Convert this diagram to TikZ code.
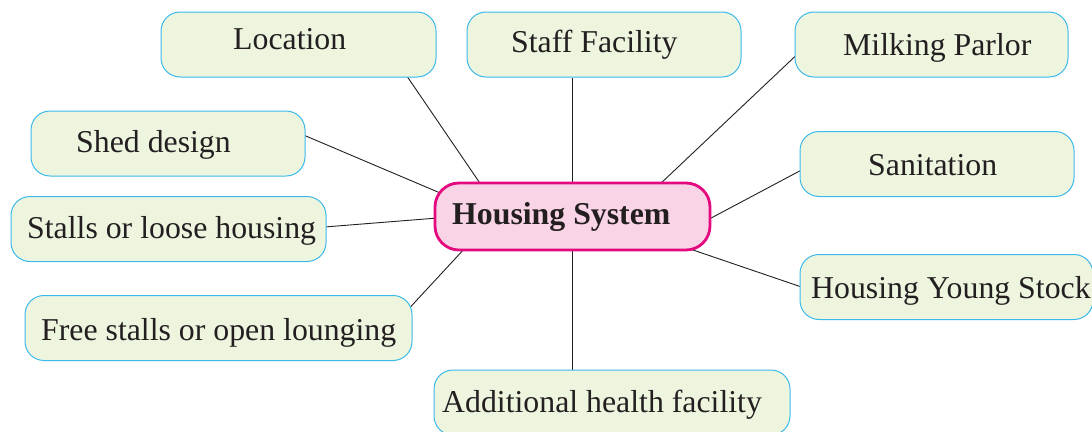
\documentclass[tikz,border=0pt]{standalone}
\usepackage{fontspec}
\setmainfont{Liberation Serif}
\usetikzlibrary{calc,backgrounds}
\definecolor{boxfill}{HTML}{EDF5DF}
\definecolor{boxline}{HTML}{3BB9EB}
\definecolor{hubfill}{HTML}{F9D4E6}
\definecolor{hubline}{HTML}{E4097F}
\definecolor{ink}{HTML}{231F20}
\begin{document}
\begin{tikzpicture}[x=1pt,y=-1pt,
	topic/.style={draw=boxline,fill=boxfill,line width=1pt,rounded corners=19pt,minimum height=65pt,inner sep=0pt},
	hub/.style={draw=hubline,fill=hubfill,line width=2.8pt,rounded corners=24pt,minimum width=275pt,minimum height=67pt,inner sep=0pt},
	word/.style={anchor=base west,inner sep=0pt,text=ink,font=\fontsize{31.8}{38}\selectfont},
	link/.style={draw=ink,line width=0.9pt}]
		\useasboundingbox (0,0) rectangle (1092,431);
		\node[topic,minimum width=275pt] (loc) at (298.5,44.5) {};
		\node[topic,minimum width=274pt] (staff) at (604,44.5) {};
		\node[topic,minimum width=273pt] (milk) at (931.5,44.5) {};
		\node[topic,minimum width=274pt] (shed) at (168,143.5) {};
		\node[topic,minimum width=274pt] (sanit) at (937,164) {};
		\node[topic,minimum width=315pt] (stalls) at (168.5,229) {};
		\node[topic,minimum width=293pt] (young) at (946.5,287) {};
		\node[topic,minimum width=387pt] (free) at (218.5,328) {};
		\node[topic,minimum width=356pt] (add) at (612,402.5) {};
		\node[hub] (hs) at (572.5,216.5) {};
		\node[word] (loc-t) at (233,49) {Location};
		\node[word] (staff-t) at (511,52) {Staff Facility};
		\node[word] (milk-t) at (843,55) {Milking Parlor};
		\node[word] (shed-t) at (76,152) {Shed design};
		\node[word] (sanit-t) at (868,175) {Sanitation};
		\node[word] (stalls-t) at (27,238) {Stalls or loose housing};
		\node[word] (young-t) at (811,298) {Housing Young Stock};
		\node[word] (free-t) at (41,340) {Free stalls or open lounging};
		\node[word] (add-t) at (442,412) {Additional health facility};
		\node[word] (hs-t) at (452,224) {\bfseries Housing System};
		\begin{scope}[on background layer]
		\draw[link] ($(loc.south east)+(-30,-2)$) -- ($(hs.north west)+(48,4)$);
		\draw[link] (hs.north) -- (hs.north |- staff.south);
		\draw[link] ($(milk.west)+(2,10.5)$) -- ($(hs.north east)+(-53,4)$);
		\draw[link] ($(shed.east)+(-2,-8.5)$) -- ($(hs.north west)+(8,12)$);
		\draw[link] ($(stalls.east)+(-2,-2)$) -- ($(hs.west)+(4,1.5)$);
		\draw[link] ($(free.north east)+(-3,13)$) -- ($(hs.south west)+(32,-4)$);
		\draw[link] ($(sanit.west)+(2,6)$) -- ($(hs.east)+(-4,3.5)$);
		\draw[link] ($(young.west)+(2,0)$) -- ($(hs.south east)+(-26,-4)$);
		\draw[link] (hs.south) -- (hs.south |- add.north);
		\end{scope}
	\end{tikzpicture}
\end{document}
